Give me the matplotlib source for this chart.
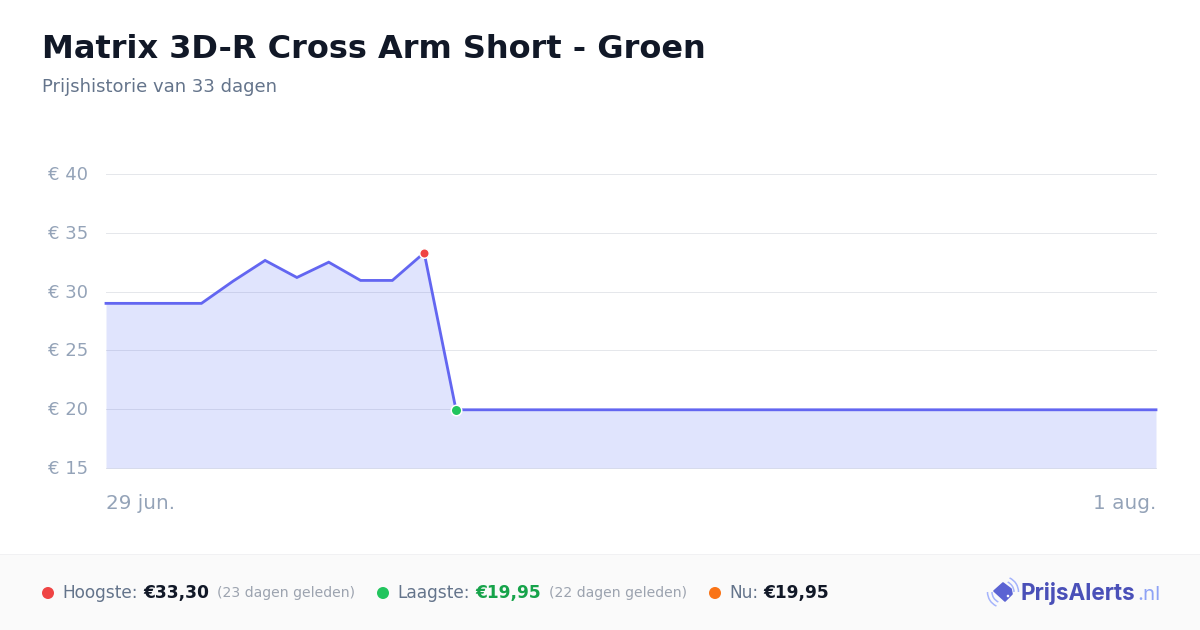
import matplotlib
matplotlib.use('Agg')
import matplotlib.pyplot as plt
from matplotlib.patches import Rectangle, Polygon, Arc, Circle
from matplotlib.transforms import ScaledTranslation

# data
days = list(range(34))
prices = [29.0, 29.0, 29.0, 29.0, 30.9, 32.65, 31.2, 32.5, 30.95, 30.95, 33.3] + [19.95] * 23
y_ticks = [15, 20, 25, 30, 35, 40]
y_labels = ['€ 15', '€ 20', '€ 25', '€ 30', '€ 35', '€ 40']
start_label = '29 jun.'
end_label = '1 aug.'
high_day, high_price = 10, 33.3
low_day, low_price = 11, 19.95

W, H = 1200, 630
px = 100 / 72  # pixels per point at dpi 100

plt.rcParams['font.family'] = ['DejaVu Sans']
fig = plt.figure(figsize=(W / 100, H / 100), dpi=100, facecolor='white')


def fx(x):
    return x / W


def fy(y):
    return 1 - y / H


def txt(x, y, s, size, color, weight='normal', ha='left', family=None):
    # size in pixels, x and y in image pixels (baseline)
    return fig.text(fx(x), fy(y), s, fontsize=size / px, color=color, fontweight=weight,
                    ha=ha, va='baseline', family=family or 'DejaVu Sans', zorder=10)


# main chart
ax = fig.add_axes([fx(106), fy(468), 1050 / W, 294 / H])
ax.set_xlim(0, 33)
ax.set_ylim(15, 40)
ax.patch.set_alpha(0)
for s in ax.spines.values():
    s.set_visible(False)
ax.set_xticks([])
ax.set_yticks(y_ticks)
ax.set_yticklabels(y_labels, fontsize=18 / px, color='#94a3b8')
ax.tick_params(axis='y', length=0, pad=18 / px)
# labels sit one pixel above their grid line
for lab in ax.get_yticklabels():
    lab.set_transform(lab.get_transform() + ScaledTranslation(0, 0.01, fig.dpi_scale_trans))
ax.grid(axis='y', color='#e5e7eb', linewidth=1.0 / px, zorder=1)
ax.set_axisbelow(True)
for g in ax.get_ygridlines():
    g.set_clip_on(False)

ax.fill_between(days, prices, 15, color='#6478f5', alpha=0.2, linewidth=0, zorder=2)
ax.plot(days, prices, color='#6366f1', linewidth=2.8 / px, solid_joinstyle='miter', zorder=3, clip_on=False)
ax.plot([high_day], [high_price], 'o', ms=9.5 / px, mfc='#ef4444', mec='white', mew=1.5 / px, zorder=4, clip_on=False)
ax.plot([low_day], [low_price], 'o', ms=10.5 / px, mfc='#22c55e', mec='white', mew=1.5 / px, zorder=4, clip_on=False)

# titles
txt(42, 58, 'Matrix 3D-R Cross Arm Short - Groen', 32, '#111827', weight='bold')
txt(42, 92, 'Prijshistorie van 33 dagen', 17.95, '#64748b')
txt(106, 509, start_label, 20, '#94a3b8')
txt(1156, 509, end_label, 20, '#94a3b8', ha='right')

# footer and logo sit on a full-figure overlay, above the chart axes
overlay = fig.add_axes([0, 0, 1, 1], facecolor='none', zorder=5)
overlay.set_xlim(0, W)
overlay.set_ylim(H, 0)
overlay.axis('off')
overlay.add_patch(Rectangle((0, 555), W, 75, facecolor='#fafafa', edgecolor='none'))
overlay.add_patch(Rectangle((0, 554), W, 1, facecolor='#f1f1f3', edgecolor='none'))
for cx, col in [(48, '#ef4444'), (383, '#22c55e'), (715, '#f97316')]:
    overlay.add_patch(Circle((cx, 593), 6, facecolor=col, edgecolor='none'))

txt(62, 598, 'Hoogste:', 17, '#64748b')
txt(143, 598, '€33,30', 17, '#111827', weight='bold')
txt(217, 597, '(23 dagen geleden)', 14, '#9ca3af')
txt(397, 598, 'Laagste:', 17, '#64748b')
txt(475, 598, '€19,95', 17, '#16a34a', weight='bold')
txt(549, 597, '(22 dagen geleden)', 14, '#9ca3af')
txt(729, 598, 'Nu:', 17, '#64748b')
txt(763, 598, '€19,95', 17, '#111827', weight='bold')

# logo
overlay.add_patch(Polygon([(1003, 583), (1011, 589), (1012, 594), (1005, 601), (994, 591)],
                          closed=True, facecolor='#5b63d3', edgecolor='#5b63d3', linewidth=1.2, joinstyle='round'))
overlay.add_patch(Circle((1008, 596), 1.3, facecolor='white', edgecolor='none'))
for r in (11, 15.5):
    overlay.add_patch(Arc((1003, 592), r * 2, r * 2, theta1=-65, theta2=0, color='#a5b4fc', linewidth=1.1))
    overlay.add_patch(Arc((1003, 592), r * 2, r * 2, theta1=115, theta2=180, color='#a5b4fc', linewidth=1.1))
txt(1021, 600, 'PrijsAlerts', 22.5, '#4a50b8', weight='bold', family='Inter')
txt(1137, 600, '.nl', 20.5, '#8ea2f5', family='Inter')

fig.savefig('out.png', dpi=100)
